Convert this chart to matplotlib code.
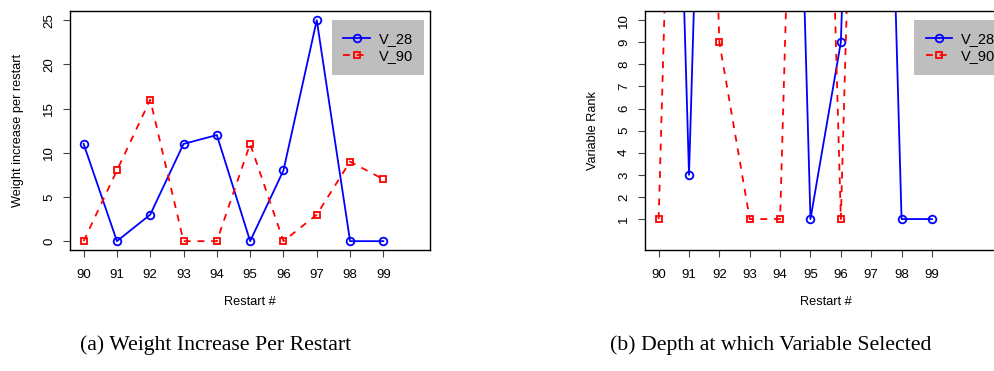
import numpy as np
import matplotlib.pyplot as plt

plt.rcParams['font.family'] = ['Liberation Sans', 'DejaVu Sans']

restarts = [90, 91, 92, 93, 94, 95, 96, 97, 98, 99]
tick_labels = ['90', '91', '92', '93', '94', '95', '96', '97', '98', '99']

# weight increase per restart
w_v28 = [11, 0, 3, 11, 12, 0, 8, 25, 0, 0]
w_v90 = [0, 8, 16, 0, 0, 11, 0, 3, 9, 7]

# rank of the variable at selection (50 = not selected within top ranks)
r_v28 = [50, 3, 50, 50, 50, 1, 9, 50, 1, 1]
r_v90 = [1, 50, 9, 1, 1, 50, 1, 50, 50, 50]

W, H = 995, 371
fig = plt.figure(figsize=(W / 100, H / 100), dpi=100)

ax1 = fig.add_axes([70.3 / W, (H - 250) / H, (430 - 70.3) / W, (250 - 11.3) / H])
ax2 = fig.add_axes([645.3 / W, (H - 250) / H, (1006 - 645.3) / W, (250 - 11.3) / H])


def draw(ax, y28, y90, xlim, ylim, yticks, ylabel):
    ax.plot(restarts, y28, color='blue', lw=1.3, marker='o', ms=5.5,
            mfc='none', mew=1.3, label='V_28')
    ax.plot(restarts, y90, color='red', lw=1.3, ls='--', dashes=(3.8, 3.8),
            marker='s', ms=4.5, mfc='none', mew=1.3, label='V_90')
    ax.set_xlim(*xlim)
    ax.set_ylim(*ylim)
    ax.set_xticks(restarts)
    ax.set_xticklabels(tick_labels)
    ax.set_yticks(yticks)
    ax.set_yticklabels([str(t) for t in yticks], rotation=90, va='center')
    ax.tick_params(axis='both', direction='out', length=5, width=0.8,
                   labelsize=9.5, color='#444444')
    ax.tick_params(axis='x', pad=8.5)
    ax.tick_params(axis='y', pad=6)
    for s in ax.spines.values():
        s.set_linewidth(1.0)
    ax.text(-0.145, 0.5, ylabel, rotation=90, ha='center', va='center',
            fontsize=9.2, transform=ax.transAxes)
    ax.text(0.5, -0.218, 'Restart #', ha='center', va='center',
            fontsize=9.2, transform=ax.transAxes)


draw(ax1, w_v28, w_v90, (89.6, 100.4), (-1, 26), [0, 5, 10, 15, 20, 25],
     'Weight increase per restart')
draw(ax2, r_v28, r_v90, (89.56, 101.44), (-0.4, 10.4), list(range(1, 11)),
     'Variable Rank')

for ax, x0 in ((ax1, 0.727), (ax2, 0.745)):
    leg = ax.legend(loc='upper left', bbox_to_anchor=(x0, 0.9636), fontsize=10.5,
                    frameon=True, fancybox=False, handlelength=1.8,
                    handletextpad=0.6, labelspacing=0.25, borderpad=0.8,
                    borderaxespad=0, numpoints=1)
    leg.get_frame().set_facecolor('#bebebe')
    leg.get_frame().set_edgecolor('none')
    leg.get_frame().set_alpha(1)

fig.text(80 / W, (H - 345) / H, '(a) Weight Increase Per Restart',
         family='Liberation Serif', fontsize=15.7, ha='left', va='center')
fig.text(610 / W, (H - 345) / H, '(b) Depth at which Variable Selected',
         family='Liberation Serif', fontsize=15.7, ha='left', va='center')

fig.savefig('out.png', dpi=100)
